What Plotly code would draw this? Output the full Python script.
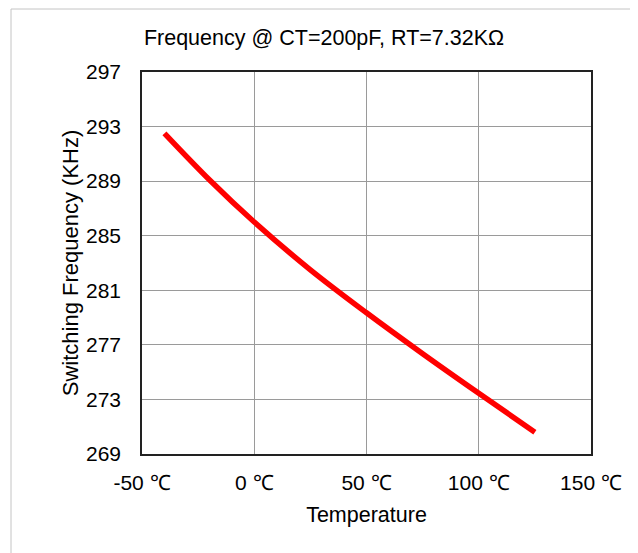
import plotly.graph_objects as go

# Data
temperature_c = [-40, -20, 0, 25, 50, 75, 100, 125]
frequency_khz = [292.5, 289.1, 286.0, 282.5, 279.35, 276.35, 273.45, 270.6]

x_tick_vals = [-50, 0, 50, 100, 150]
x_tick_text = ["-50 ℃", "0 ℃", "50 ℃", "100 ℃", "150 ℃"]
y_tick_vals = [269, 273, 277, 281, 285, 289, 293, 297]

# page body has an 8px margin, so the figure is laid out 8px smaller
W, H = 630, 545
L, R, T, B = 134, 47, 64, 99
FONT = "Arial, 'Liberation Sans', sans-serif"

fig = go.Figure()
fig.add_trace(go.Scatter(
    x=temperature_c, y=frequency_khz, mode="lines",
    line=dict(color="#ff0000", width=5.5, shape="spline", smoothing=1.0),
    showlegend=False, hoverinfo="skip",
))

pw = W - L - R
ph = H - T - B
# outer light-gray frame (in paper units relative to plot area)
fig.add_shape(type="rect", xref="paper", yref="paper",
              x0=(3 - L) / pw, x1=(628 - L) / pw,
              y0=(H - B - 560) / ph, y1=(H - B - 1) / ph,
              line=dict(color="#c4c4c4", width=1), fillcolor="rgba(0,0,0,0)",
              layer="below")

fig.update_layout(
    width=W, height=H,
    margin=dict(l=L, r=R, t=T, b=B, autoexpand=False),
    paper_bgcolor="white", plot_bgcolor="white",
    font=dict(family=FONT, size=21, color="#000000"),
    title=dict(text="Frequency @ CT=200pF, RT=7.32KΩ", x=316 / W, xanchor="center",
               y=1 - 29 / H, yanchor="middle", font=dict(size=21.5)),
)
fig.update_xaxes(
    range=[-50, 150], tickvals=x_tick_vals, ticktext=x_tick_text,
    showgrid=True, gridcolor="#9a9a9a", gridwidth=1,
    showline=True, mirror=True, linecolor="#222222", linewidth=1.5,
    zeroline=False, ticks="", ticklabelstandoff=9,
    title=dict(text="Temperature", standoff=14, font=dict(size=21.5)),
    automargin=False,
)
fig.update_yaxes(
    range=[269, 297], tickvals=y_tick_vals,
    showgrid=True, gridcolor="#9a9a9a", gridwidth=1,
    showline=True, mirror=True, linecolor="#222222", linewidth=1.5,
    zeroline=False, ticks="", ticklabelstandoff=15,
    title=dict(text="Switching Frequency (KHz)", standoff=1, font=dict(size=22)),
    automargin=False,
)

fig.write_html("out.html")
